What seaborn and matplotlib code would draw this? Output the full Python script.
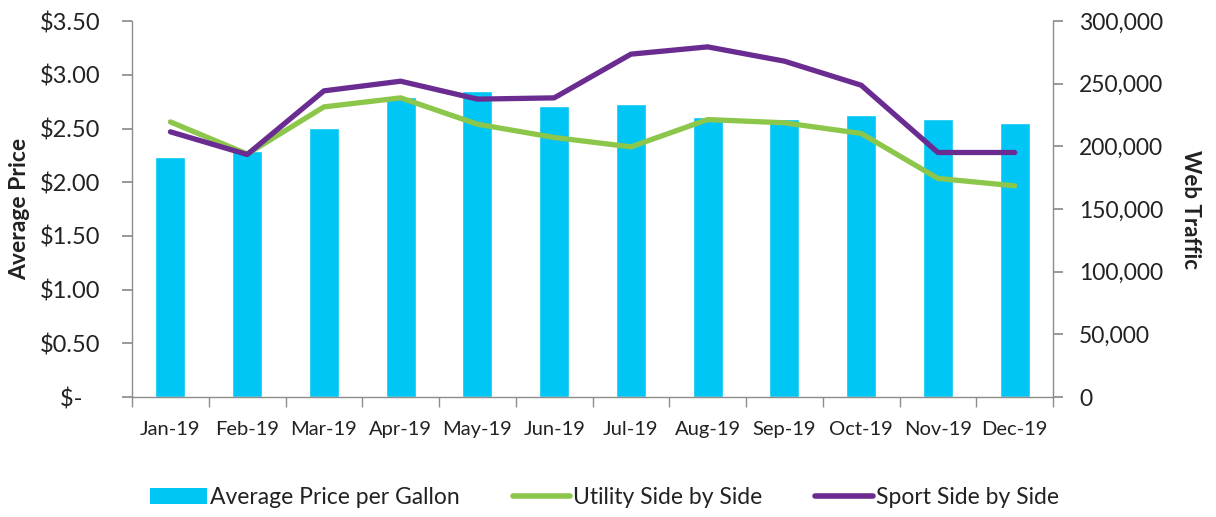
import numpy as np
import pandas as pd
import matplotlib
matplotlib.use("Agg")
import matplotlib.pyplot as plt
import seaborn as sns
from matplotlib.ticker import FuncFormatter, FixedLocator
from matplotlib.patches import Patch
from matplotlib.lines import Line2D

months = ["Jan-19", "Feb-19", "Mar-19", "Apr-19", "May-19", "Jun-19",
          "Jul-19", "Aug-19", "Sep-19", "Oct-19", "Nov-19", "Dec-19"]
avg_price = [2.24, 2.29, 2.51, 2.79, 2.85, 2.71, 2.73, 2.61, 2.59, 2.63, 2.59, 2.55]
utility = [219600, 194000, 231600, 238800, 217800, 207200, 199700, 221500, 218900, 210400, 174500, 168600]
sport = [211700, 193600, 244400, 252100, 237800, 238800, 273700, 279500, 268100, 248900, 195200, 195200]

bar_color = "#00C6F5"
green = "#8CC64A"
purple = "#6A2C91"
axis_gray = "#8C8C8C"
text_color = "#222222"

sns.set_theme(style="white")
plt.rcParams["font.family"] = ["Lato", "DejaVu Sans"]

df = pd.DataFrame({"month": months, "price": avg_price, "utility": utility, "sport": sport})
df["pos"] = np.arange(len(df))

fig = plt.figure(figsize=(12.16, 5.17), dpi=100)
ax = fig.add_axes([0.1086, 0.232, 0.7574, 0.727])

sns.barplot(data=df, x="month", y="price", color=bar_color, width=0.39,
            saturation=1, ax=ax, zorder=1)
ax.set_ylim(0, 3.5)
ax.set_xlim(-0.5, 11.5)
ax.set_yticks(np.arange(0, 3.51, 0.5))
ax.yaxis.set_major_formatter(FuncFormatter(lambda v, p: "$-   " if abs(v) < 1e-9 else f"${v:.2f}"))
ax.set_xlabel("")
ax.set_ylabel("Average Price", fontsize=16.5, fontweight="bold", color=text_color, va="center")
ax.yaxis.set_label_coords(-0.1216, 0.5)

ax2 = ax.twinx()
sns.lineplot(data=df, x="pos", y="utility", color=green, linewidth=3.8, ax=ax2,
             solid_capstyle="round", solid_joinstyle="round")
sns.lineplot(data=df, x="pos", y="sport", color=purple, linewidth=3.8, ax=ax2,
             solid_capstyle="round", solid_joinstyle="round")
ax2.set_ylim(0, 300000)
ax2.set_xlim(-0.5, 11.5)
ax2.set_yticks(np.arange(0, 300001, 50000))
ax2.yaxis.set_major_formatter(FuncFormatter(lambda v, p: f"{int(v):,}"))
ax2.set_ylabel("Web Traffic", fontsize=16, fontweight="bold", rotation=270,
               color=text_color, va="center")
ax2.yaxis.set_label_coords(1.1488, 0.5)
ax2.set_xlabel("")

for a in (ax, ax2):
    for s in a.spines.values():
        s.set_color(axis_gray)
        s.set_linewidth(1.0)
    a.spines["top"].set_visible(False)
ax.spines["right"].set_visible(False)
ax2.spines["left"].set_visible(False)
ax2.spines["bottom"].set_visible(False)

ax.tick_params(axis="y", which="major", direction="out", length=7, color=axis_gray,
               labelsize=17, labelcolor=text_color, left=True, pad=16)
ax2.tick_params(axis="y", which="major", direction="out", length=7, color=axis_gray,
                labelsize=16.5, labelcolor=text_color, right=True, pad=11.7)
ax.xaxis.set_minor_locator(FixedLocator(np.arange(-0.5, 12, 1.0)))
ax.tick_params(axis="x", which="minor", direction="out", length=7, color=axis_gray, bottom=True)
ax.tick_params(axis="x", which="major", length=0, labelsize=14.5, labelcolor=text_color, pad=17)

handles = [Patch(facecolor=bar_color, edgecolor="none"),
           Line2D([0], [0], color=green, linewidth=4, solid_capstyle="round"),
           Line2D([0], [0], color=purple, linewidth=4, solid_capstyle="round")]
labels = ["Average Price per Gallon", "Utility Side by Side", "Sport Side by Side"]
fig.legend(handles, labels, loc="center", bbox_to_anchor=(0.497, 0.038), ncol=3,
           frameon=False, fontsize=16.5, handlelength=2.5, columnspacing=2.3,
           handletextpad=0.15, labelcolor=text_color)

fig.savefig("out.png", dpi=100)
